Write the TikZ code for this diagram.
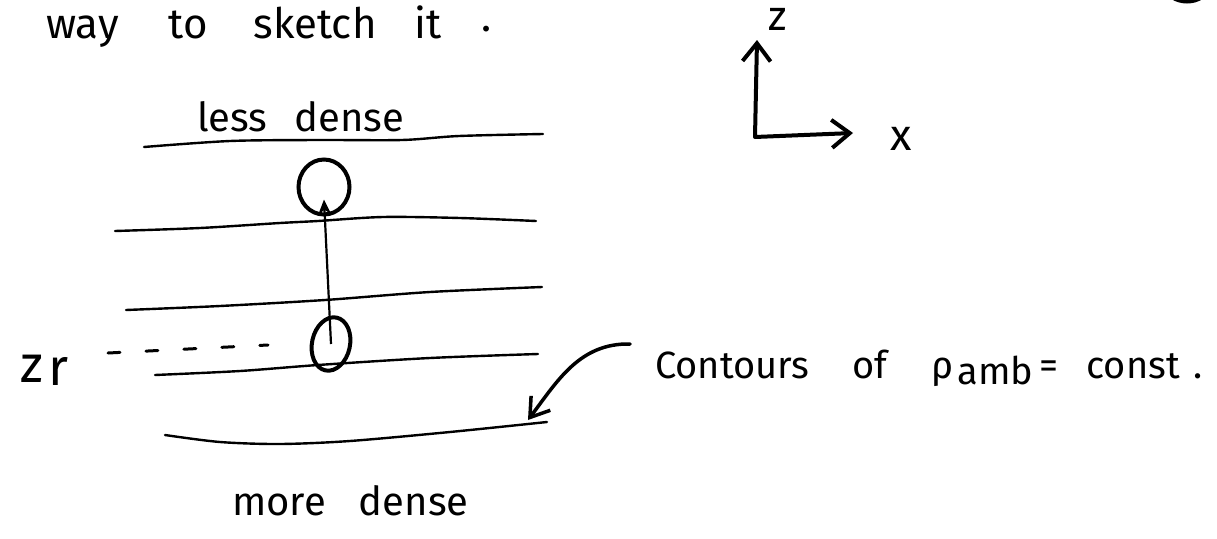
\documentclass[tikz,border=0pt]{standalone}
\usepackage{fontspec}
\setmainfont{Fira Sans}
\usetikzlibrary{arrows.meta,shapes.geometric}
\newcommand{\wsp}[1]{\hspace{#1}}
\begin{document}
\begin{tikzpicture}[x=1pt,y=-1pt,
  contour/.style={line width=2.4pt,line cap=round,line join=round},
  blob/.style={draw,ellipse,line width=4pt,inner sep=0pt},
  conn/.style={line width=2.2pt,-{Stealth[length=15pt,width=13pt]}},
  axis/.style={line width=4pt,line cap=round,line join=round,{Straight Barb[length=18pt,width=28pt]}-{Straight Barb[length=18pt,width=28pt]}},
  pointer/.style={line width=3.5pt,line cap=round,-{Straight Barb[length=18pt,width=24pt]}},
  lbl/.style={inner sep=0pt,anchor=base west},
  zdash/.style={line width=3pt,dash pattern=on 12pt off 26pt,line cap=round}
]
\useasboundingbox (0,0) rectangle (1217,538);
\fill[white] (0,0) rectangle (1217,538);

% title
\node[lbl,font=\fontsize{42}{48}\selectfont] (title) at (46,38) {way\wsp{50pt}to\wsp{46pt}sketch\wsp{38pt}it\wsp{40pt}\raisebox{7pt}{.}};

% density labels
\node[lbl,font=\fontsize{40}{46}\selectfont] (less) at (197,131) {less\wsp{27pt}dense};
\node[lbl,font=\fontsize{40}{46}\selectfont] (more) at (232,515) {more\wsp{33pt}dense};

% contours
\draw[contour] plot[smooth] coordinates {(144,147) (230,141) (318,140) (402,140) (459,136) (543,134)};
\draw[contour] plot[smooth] coordinates {(115,231) (200,228) (280,223) (318,221) (383,217) (460,218) (536,221)};
\draw[contour] plot[smooth] coordinates {(126,310) (220,306) (325,300) (430,292) (542,287)};
\draw[contour] plot[smooth] coordinates {(155,375) (240,371) (318,365) (430,358) (538,354)};
\draw[contour] plot[smooth] coordinates {(165,435) (220,442) (280,444) (350,441) (450,432) (547,422)};

% parcels
\node[blob,minimum width=51pt,minimum height=55pt] (upper) at (324,187) {};
\node[blob,minimum width=38pt,minimum height=54pt,rotate=-12] (lower) at (331,344) {};
\draw[conn] (lower.center) -- ([yshift=17pt]upper.south);

% z_r
\node[lbl,font=\fontsize{52}{60}\selectfont] (zr) at (20,382) {z\wsp{6pt}\raisebox{-3pt}{r}};
\coordinate (d1) at (108,353);
\coordinate (d2) at (268,345);
\draw[zdash] (d1) -- (d2);

% contour label
\node[lbl,font=\fontsize{38}{44}\selectfont] (cont) at (655,378) {Contours\wsp{43pt}of\wsp{44pt}ρ\wsp{4pt}\raisebox{-6pt}{amb}\wsp{6pt}=\wsp{28pt}const\wsp{14pt}.};
\coordinate (pstart) at (630,344);
\coordinate (ptip) at (528,420);
\draw[pointer] (pstart) .. controls (580,343) and (558,380) .. (ptip);

% axes
\coordinate (O) at (755,137);
\coordinate (zt) at (757,40);
\coordinate (xt) at (853,133);
\draw[axis] (zt) -- (O) -- (xt);
\node[lbl,font=\fontsize{42}{48}\selectfont] (zl) at (768,30) {z};
\node[lbl,font=\fontsize{44}{50}\selectfont] (xl) at (890,150) {x};

% partial circle at top right (only its lowest edge shows)
\begin{scope}
\clip (0,0) rectangle (1217,538);
\draw[line width=4pt,line cap=round] (1172,-3) .. controls (1180,3) and (1194,3) .. (1202,-3);
\end{scope}
\end{tikzpicture}
\end{document}
